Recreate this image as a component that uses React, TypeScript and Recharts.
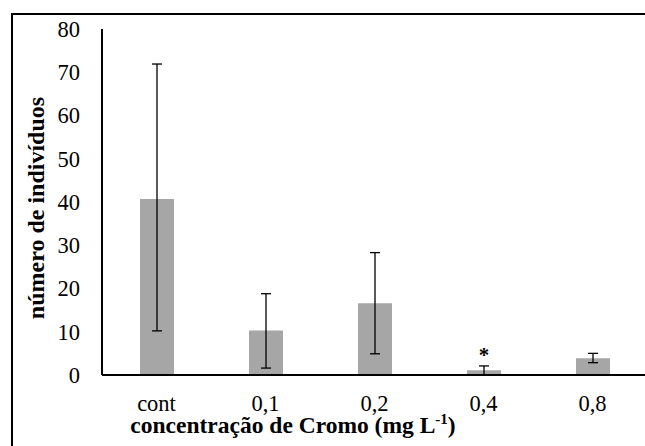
import { BarChart, Bar, XAxis, YAxis, ErrorBar, LabelList } from 'recharts';

const categories = ['cont', '0,1', '0,2', '0,4', '0,8'];
const means = [40.7, 10.3, 16.6, 1.1, 3.85];
const lowerLimits = [10.2, 1.6, 4.9, 0, 2.85];
const upperLimits = [71.9, 18.8, 28.3, 2.1, 5.0];
const marks = ['', '', '', '*', ''];
const yTicks = [0, 10, 20, 30, 40, 50, 60, 70, 80];

const data = categories.map((name, i) => ({
  name,
  value: means[i],
  err: [means[i] - lowerLimits[i], upperLimits[i] - means[i]],
  mark: marks[i],
}));

const serif = 'Liberation Serif, Tinos, Times New Roman, DejaVu Serif, serif';
const tickStyle = { fontFamily: serif, fontSize: 22.5, fill: '#000' };

function YTitle(props: any) {
  const { viewBox } = props;
  const x = viewBox.x + 28;
  const y = viewBox.y + 179;
  return (
    <text x={x} y={y} transform={`rotate(-90, ${x}, ${y})`} textAnchor="middle" dominantBaseline="central"
      style={{ fontFamily: serif, fontWeight: 'bold', fontSize: 24 }} fill="#000">
      número de indivíduos
    </text>
  );
}

function XTitle(props: any) {
  const { viewBox } = props;
  return (
    <text x={viewBox.x + 191} y={viewBox.y + 58} textAnchor="middle" style={{ fontFamily: serif, fontWeight: 'bold', fontSize: 23.5 }} fill="#000">
      concentração de Cromo (mg L<tspan dy={-9} fontSize={15}>-1</tspan><tspan dy={9}>)</tspan>
    </text>
  );
}

function Star(props: any) {
  const { x, y, width, value } = props;
  if (!value) return null;
  return (
    <text x={x + width / 2} y={y - 8} textAnchor="middle" style={{ fontFamily: serif, fontWeight: 'bold', fontSize: 21 }} fill="#000">
      {value}
    </text>
  );
}

export default function App() {
  return (
    <>
      <style>{'html, body { overflow: hidden; }'}</style>
      <div style={{ position: 'fixed', left: 0, top: 0, width: 645, height: 446, overflow: 'hidden', background: '#fff' }}>
        <div style={{ position: 'absolute', left: 11, top: 13, width: 700, height: 500, borderTop: '2px solid #000', borderLeft: '2px solid #000' }} />
        <div style={{ position: 'absolute', left: 8, top: 8 }}>
          <BarChart width={720} height={460} data={data} margin={{ top: 21, right: 81, bottom: 63, left: 0 }} barSize={34}>
            <XAxis dataKey="name" height={30} axisLine={{ stroke: '#000', strokeWidth: 2 }} tickLine={false} tickSize={0} tickMargin={20}
              tick={tickStyle} label={{ content: <XTitle /> }} />
            <YAxis width={94} domain={[0, 80]} ticks={yTicks} interval={0} axisLine={{ stroke: '#000', strokeWidth: 2 }} tickLine={false} tickSize={0} tickMargin={22}
              tick={tickStyle} label={{ content: <YTitle /> }} />
            <Bar dataKey="value" fill="#a6a6a6" isAnimationActive={false}>
              <ErrorBar dataKey="err" width={5} stroke="#000" strokeWidth={1.3} isAnimationActive={false} />
              <LabelList dataKey="mark" content={<Star />} />
            </Bar>
          </BarChart>
        </div>
      </div>
    </>
  );
}
